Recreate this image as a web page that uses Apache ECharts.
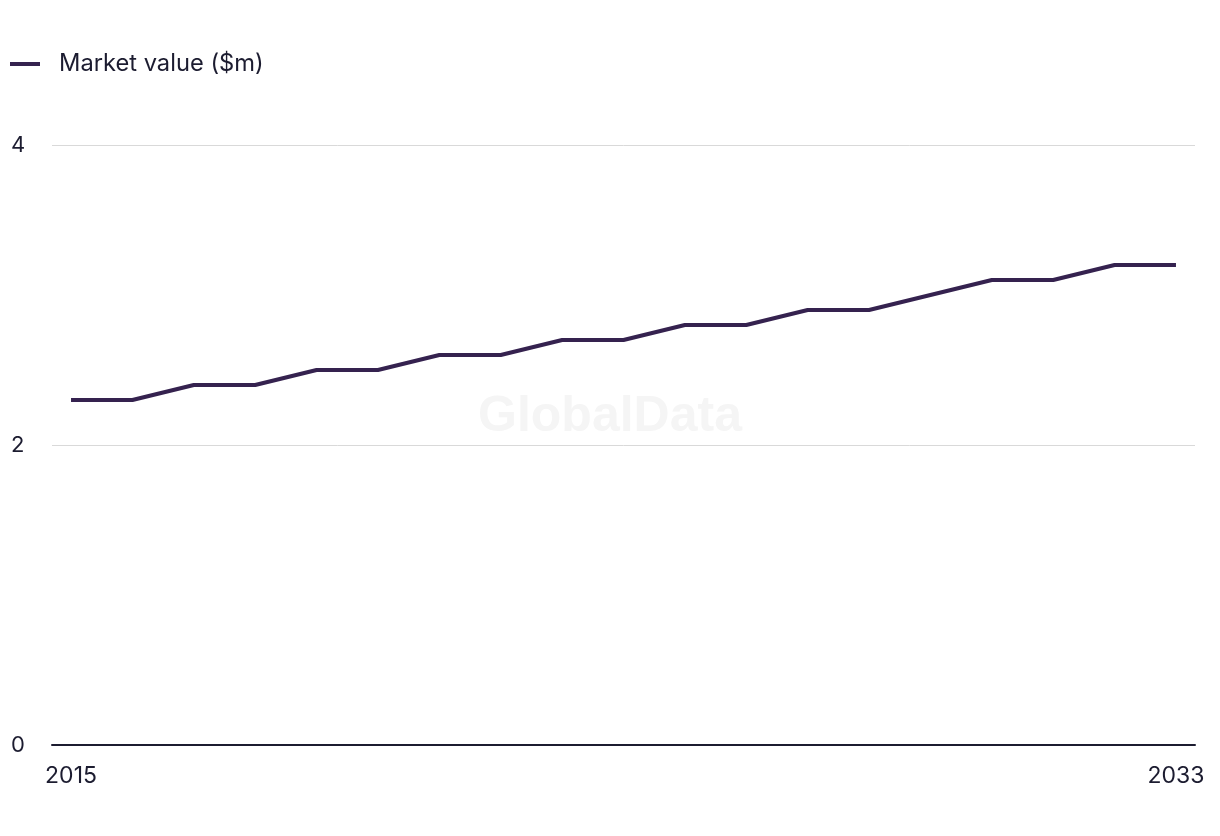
<!DOCTYPE html>
<html>
<head>
<meta charset="utf-8">
<style>html,body{margin:0;padding:0;background:#fff;}#c{width:1220px;height:836px;}</style>
<script src="https://cdn.jsdelivr.net/npm/echarts@6/dist/echarts.min.js"></script>
</head>
<body>
<div id="c"></div>
<script>
const years = [2015,2016,2017,2018,2019,2020,2021,2022,2023,2024,2025,2026,2027,2028,2029,2030,2031,2032,2033];
const marketValue = [2.3,2.3,2.4,2.4,2.5,2.5,2.6,2.6,2.7,2.7,2.8,2.8,2.9,2.9,3.0,3.1,3.1,3.2,3.2];
const xTickLabels = [2015, 2033];
const yTicks = [0, 2, 4];
const seriesName = 'Market value ($m)';

const chart = echarts.init(document.getElementById('c'), null, {renderer:'canvas'});
const font = 'Inter, "Noto Sans", sans-serif';
chart.setOption({
  animation: false,
  backgroundColor: '#ffffff',
  textStyle: {fontFamily: font},
  graphic: [{
    type: 'text', left: 'center', top: 392,
    style: {text: 'GlobalData', font: 'bold 50px "Liberation Sans", Arial, sans-serif', fill: '#f5f5f5'},
    z: -10
  }],
  legend: {
    left: 5, top: 47,
    itemWidth: 30, itemHeight: 4,
    icon: 'rect',
    textStyle: {fontSize: 23.7, color: '#1c1c30', fontFamily: font, padding: [0,0,0,14]},
    data: [seriesName]
  },
  grid: {left: 52, right: 25, top: 145, bottom: 91, containLabel: false},
  xAxis: {
    type: 'value',
    min: 2015 - 0.31, max: 2033 + 0.31,
    axisLine: {show: true, onZero: false, lineStyle: {color: '#1c1c30', width: 2}},
    axisTick: {show: false},
    splitLine: {show: false},
    axisLabel: {
      customValues: xTickLabels,
      formatter: v => String(v),
      fontSize: 23, color: '#1c1c30', margin: 20, fontFamily: font
    }
  },
  yAxis: {
    type: 'value', min: 0, max: 4, interval: 2,
    axisLine: {show: false},
    axisTick: {show: false},
    splitLine: {show: true, lineStyle: {color: '#d9d9d9', width: 1}},
    axisLabel: {
      customValues: yTicks,
      align: 'left', margin: 41, fontSize: 22, color: '#1c1c30', fontFamily: font
    }
  },
  series: [{
    name: seriesName,
    type: 'line',
    data: years.map((y, i) => [y, marketValue[i]]),
    showSymbol: false,
    symbol: 'none',
    lineStyle: {color: '#35224f', width: 4, cap: 'butt'},
    itemStyle: {color: '#35224f'}
  }]
});
</script>
</body>
</html>
